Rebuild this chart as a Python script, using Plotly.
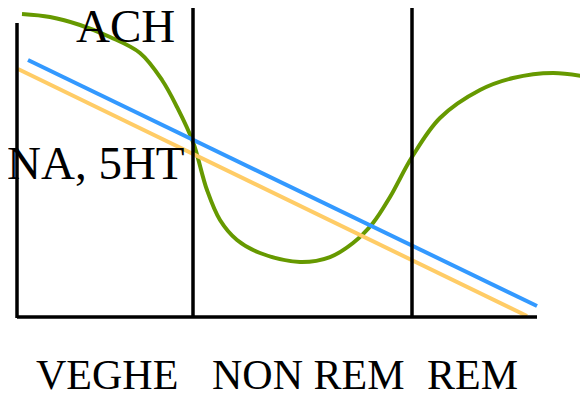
import plotly.graph_objects as go

# curve of acetylcholine (ACH), in picture units (y grows downward)
ach_x = [22, 50, 80, 110, 140, 162, 177, 193, 207, 220, 237, 260, 300, 330, 353, 373, 390,
         412, 440, 480, 513, 553, 588]
ach_y = [14, 17, 25, 37, 53, 80, 107, 142, 190, 220, 240, 253, 262, 257, 243, 223, 197,
         157, 118, 90, 78, 73, 77]

# NA and 5HT straight declines
na_x = [28, 537]
na_y = [60, 306]
ht_x = [18, 527]
ht_y = [69, 316]

stages = ["VEGHE", "NON REM", "REM"]
stage_centers = [107, 308, 472]
stage_bounds = [193, 412]

# the page body has an 8px margin, so the data window is shifted by that much
off = 8

fig = go.Figure()
fig.add_trace(go.Scatter(x=ach_x, y=ach_y, mode="lines",
                         line=dict(color="#669900", width=4, shape="spline", smoothing=1),
                         showlegend=False, hoverinfo="skip"))
fig.add_trace(go.Scatter(x=ht_x, y=ht_y, mode="lines", line=dict(color="#ffcc66", width=4),
                         showlegend=False, hoverinfo="skip"))
fig.add_trace(go.Scatter(x=na_x, y=na_y, mode="lines", line=dict(color="#3399ff", width=4),
                         showlegend=False, hoverinfo="skip"))

# axes
fig.add_shape(type="line", x0=17, x1=17, y0=23, y1=318, line=dict(color="black", width=3.5))
fig.add_shape(type="line", x0=17, x1=537, y0=317, y1=317, line=dict(color="black", width=3.5))
for b in stage_bounds:
    fig.add_shape(type="line", x0=b, x1=b, y0=5, y1=318, line=dict(color="black", width=3.5))

serif = "Liberation Serif, Times New Roman, serif"
fig.add_annotation(x=125, y=26, text="ACH", showarrow=False, font=dict(family=serif, size=47, color="black"),
                   xanchor="center", yanchor="middle")
fig.add_annotation(x=96, y=163, text="NA, 5HT", showarrow=False, font=dict(family=serif, size=47, color="black"),
                   xanchor="center", yanchor="middle")
for s, cx in zip(stages, stage_centers):
    fig.add_annotation(x=cx, y=375, text=s, showarrow=False, font=dict(family=serif, size=42, color="black"),
                       xanchor="center", yanchor="middle")

fig.update_layout(
    width=588, height=394,
    margin=dict(l=0, r=0, t=0, b=0),
    plot_bgcolor="white", paper_bgcolor="white",
    xaxis=dict(range=[off, 588 + off], visible=False, fixedrange=True),
    yaxis=dict(range=[394 + off, off], visible=False, fixedrange=True),
)

fig.write_html("out.html")
